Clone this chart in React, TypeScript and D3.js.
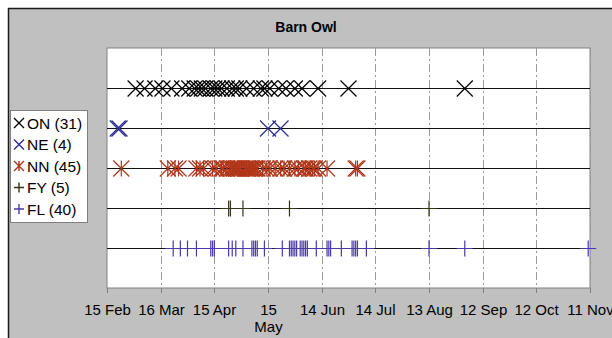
import React from 'react';
import * as d3 from 'd3';

const WIDTH = 612;
const HEIGHT = 338;

// axis ticks, every 30 days (leap year 2000)
const TICK_DATES = ['02-15', '03-16', '04-15', '05-15', '06-14', '07-14', '08-13', '09-12', '10-12', '11-11'];
const TICK_LABELS = [['15 Feb'], ['16 Mar'], ['15 Apr'], ['15', 'May'], ['14 Jun'], ['14 Jul'], ['13 Aug'], ['12 Sep'], ['12 Oct'], ['11 Nov']];

// observation dates per category (month-day)
const ON_DATES = ['03-02', '03-07', '03-13', '03-17', '03-22', '03-28', '04-01', '04-04', '04-06', '04-08',
  '04-10', '04-13', '04-15', '04-17', '04-19', '04-22', '04-25', '04-27', '04-29', '05-03',
  '05-07', '05-11', '05-13', '05-16', '05-21', '05-25', '05-30', '06-03', '06-12', '06-29', '09-02'];
const NE_DATES = ['02-21', '02-22', '05-15', '05-22'];
const NN_DATES = ['02-23', '03-20', '03-24', '03-26', '04-05', '04-07', '04-09', '04-14', '04-16', '04-19',
  '04-20', '04-22', '04-24', '04-25', '04-26', '04-27', '04-28', '04-29', '04-30', '05-02',
  '05-03', '05-04', '05-05', '05-06', '05-07', '05-08', '05-09', '05-12', '05-14', '05-16',
  '05-19', '05-22', '05-24', '05-27', '05-30', '06-01', '06-04', '06-05', '06-07', '06-09',
  '06-10', '06-12', '06-17', '07-03', '07-04'];
const FY_DATES = ['04-23', '04-24', '05-01', '05-27', '08-13'];
const FL_DATES = ['03-23', '03-27', '03-31', '04-05', '04-13', '04-14', '04-15', '04-23', '04-25', '04-27',
  '05-01', '05-06', '05-07', '05-08', '05-09', '05-13', '05-23', '05-27', '05-28', '05-29',
  '05-30', '05-31', '06-02', '06-03', '06-04', '06-05', '06-06', '06-11', '06-17', '06-18',
  '06-19', '06-25', '07-01', '07-02', '07-03', '07-04', '07-09', '08-13', '09-02', '11-10'];

const SERIES = [
  { name: 'ON', dates: ON_DATES, row: 5, color: '#000000', marker: 'x' },
  { name: 'NE', dates: NE_DATES, row: 4, color: '#2b2b90', marker: 'x' },
  { name: 'NN', dates: NN_DATES, row: 3, color: '#b0361a', marker: 'star' },
  { name: 'FY', dates: FY_DATES, row: 2, color: '#34341a', marker: 'plus' },
  { name: 'FL', dates: FL_DATES, row: 1, color: '#4a3aa8', marker: 'plus' },
];

const parse = d3.timeParse('%Y-%m-%d');
const toDate = (s: string) => parse('2000-' + s) as Date;

// marker path centred on 0,0
const markerPath = (type: string, r: number) => {
  const p = d3.path();
  if (type === 'x' || type === 'star') {
    p.moveTo(-r, -r); p.lineTo(r, r);
    p.moveTo(-r, r); p.lineTo(r, -r);
  }
  if (type === 'star') {
    p.moveTo(0, -r); p.lineTo(0, r);
  }
  if (type === 'plus') {
    p.moveTo(-r, 0); p.lineTo(r, 0);
    p.moveTo(0, -r); p.lineTo(0, r);
  }
  return p.toString();
};

const App = () => {
  const plot = { left: 107, right: 590, top: 48, bottom: 288 };

  const x = d3.scaleTime()
    .domain([toDate(TICK_DATES[0]), toDate(TICK_DATES[TICK_DATES.length - 1])])
    .range([plot.left, plot.right]);
  const y = d3.scaleLinear().domain([0, 6]).range([plot.bottom, plot.top]);

  const font = 'Arial, "Liberation Sans", sans-serif';

  return (
    <svg width={WIDTH} height={HEIGHT} style={{ position: 'absolute', left: 0, top: 0 }} fontFamily={font}>
      {/* chart frame */}
      <rect x={8.5} y={8.5} width={700} height={400} fill="#c0c0c0" stroke="#1a1a1a" strokeWidth={1.5} />
      <text x={306} y={32} textAnchor="middle" fontSize={14} fontWeight="bold">Barn Owl</text>

      {/* plot area */}
      <rect x={plot.left} y={plot.top} width={plot.right - plot.left} height={plot.bottom - plot.top}
        fill="#ffffff" stroke="#808080" strokeWidth={1} />

      {TICK_DATES.map((t, i) => {
        const xx = Math.round(x(toDate(t))) + 0.5;
        return (
          <g key={t}>
            {i > 0 && (
              <line x1={xx} x2={xx} y1={plot.top} y2={plot.bottom} stroke="#9a9a9a" strokeWidth={1}
                strokeDasharray="8,3,2,3" />
            )}
            <line x1={xx} x2={xx} y1={plot.bottom} y2={plot.bottom + 5} stroke="#808080" />
            <text x={xx} y={315} textAnchor="middle" fontSize={15} fill="#000">
              {TICK_LABELS[i].map((l, j) => (
                <tspan key={j} x={xx} dy={j === 0 ? 0 : 17}>{l}</tspan>
              ))}
            </text>
          </g>
        );
      })}

      {/* row lines */}
      {SERIES.map(s => (
        <line key={s.name} x1={plot.left} x2={plot.right} y1={Math.round(y(s.row)) + 0.5}
          y2={Math.round(y(s.row)) + 0.5} stroke="#111" strokeWidth={1.2} />
      ))}

      {/* markers */}
      {SERIES.map(s => (
        <g key={s.name} stroke={s.color} fill="none" strokeWidth={1.2}>
          {s.dates.map((d, i) => (
            <path key={i} d={markerPath(s.marker, 8)}
              transform={`translate(${x(toDate(d))},${y(s.row) + 0.5})`} />
          ))}
        </g>
      ))}

      {/* legend */}
      <rect x={10.5} y={110.5} width={77} height={112} fill="#ffffff" stroke="#808080" />
      {SERIES.map((s, i) => (
        <g key={s.name} transform={`translate(0,${123 + i * 21.5})`}>
          <path d={markerPath(s.marker, 5)} transform="translate(19,0)" stroke={s.color} strokeWidth={1.4} fill="none" />
          <text x={27} y={5.5} fontSize={15.5} fill="#000">{`${s.name} (${s.dates.length})`}</text>
        </g>
      ))}
    </svg>
  );
};

export default App;
